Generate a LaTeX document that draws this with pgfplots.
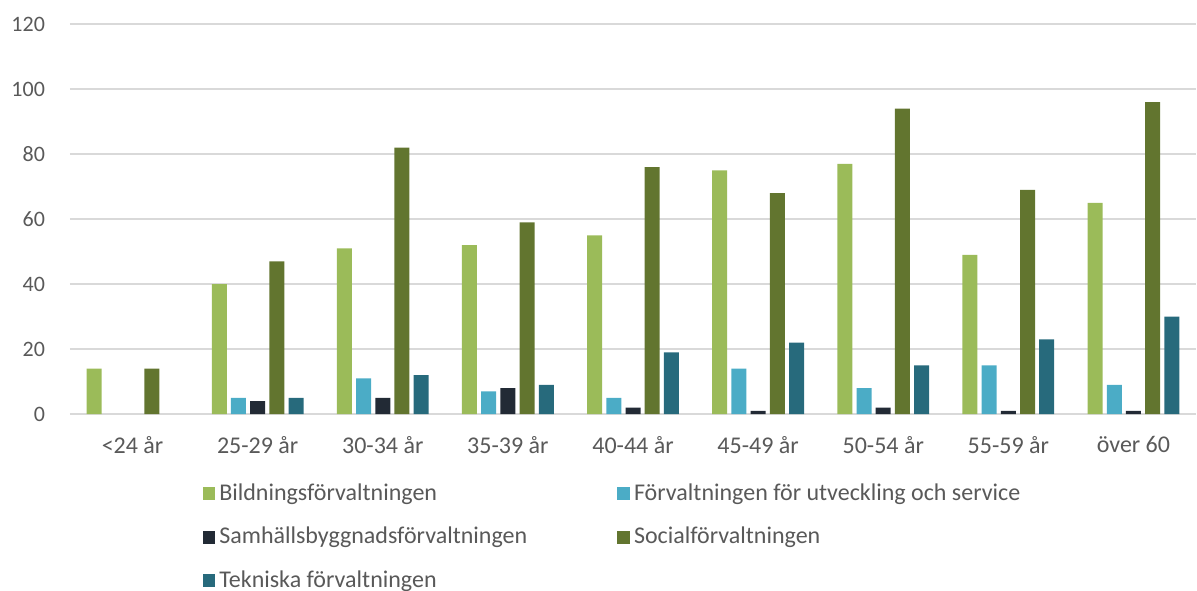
\documentclass[border=0pt]{standalone}
\usepackage{fontspec}
\setmainfont{Carlito}
\usepackage{pgfplots}
\pgfplotsset{compat=1.18}
\usetikzlibrary{calc}
\definecolor{bild}{HTML}{9BBB59}
\definecolor{futv}{HTML}{4BACC6}
\definecolor{samh}{HTML}{222A35}
\definecolor{soc}{HTML}{62752F}
\definecolor{tekn}{HTML}{276A7C}
\definecolor{txtgray}{HTML}{595959}
\definecolor{gridgray}{HTML}{D9D9D9}
\begin{document}
\begin{tikzpicture}
\begin{axis}[
  name=ax,
  scale only axis,
  width=563pt, height=195pt,
  ybar=2.1pt, bar width=7.5pt,
  xmin=-0.5, xmax=8.5,
  ymin=0, ymax=120,
  ytick={0,20,...,120},
  xtick={0,...,8},
  xticklabels={<24 år,25-29 år,30-34 år,35-39 år,40-44 år,45-49 år,50-54 år,55-59 år,över 60},
  axis line style={draw=none},
  major tick length=0pt,
  ymajorgrids,
  grid style={gridgray, line width=0.9pt},
  tick label style={font=\fontsize{11}{13}\selectfont, text=txtgray},
  /pgf/number format/assume math mode=true,
  yticklabel style={xshift=-9pt},
  xticklabel style={yshift=-7.5pt, font=\fontsize{12}{14}\selectfont},
  legend style={at={(0.112,-0.157)}, anchor=north west, draw=none,
    font=\fontsize{12}{14}\selectfont, text=txtgray,
    legend columns=2, row sep=8pt,
    /tikz/every even column/.append style={column sep=43pt}},
  legend cell align=left,
  legend image code/.code={\fill[#1] (0pt,-3.2pt) rectangle (6.4pt,3.2pt);},
]
% Bildningsförvaltningen
\addplot[fill=bild, draw=none] coordinates {(0,14) (1,40) (2,51) (3,52) (4,55) (5,75) (6,77) (7,49) (8,65)};
% Förvaltningen för utveckling och service
\addplot[fill=futv, draw=none] coordinates {(1,5) (2,11) (3,7) (4,5) (5,14) (6,8) (7,15) (8,9)};
% Samhällsbyggnadsförvaltningen
\addplot[fill=samh, draw=none] coordinates {(1,4) (2,5) (3,8) (4,2) (5,1) (6,2) (7,1) (8,1)};
% Socialförvaltningen
\addplot[fill=soc, draw=none] coordinates {(0,14) (1,47) (2,82) (3,59) (4,76) (5,68) (6,94) (7,69) (8,96)};
% Tekniska förvaltningen
\addplot[fill=tekn, draw=none] coordinates {(1,5) (2,12) (3,9) (4,19) (5,22) (6,15) (7,23) (8,30)};
\legend{Bildningsförvaltningen,Förvaltningen för utveckling och service,Samhällsbyggnadsförvaltningen,Socialförvaltningen,Tekniska förvaltningen}
\end{axis}
\pgfresetboundingbox
\path[use as bounding box] ($(ax.south west)+(-35pt,-88pt)$) rectangle ($(ax.north east)+(0.5pt,12pt)$);
\end{tikzpicture}
\end{document}
